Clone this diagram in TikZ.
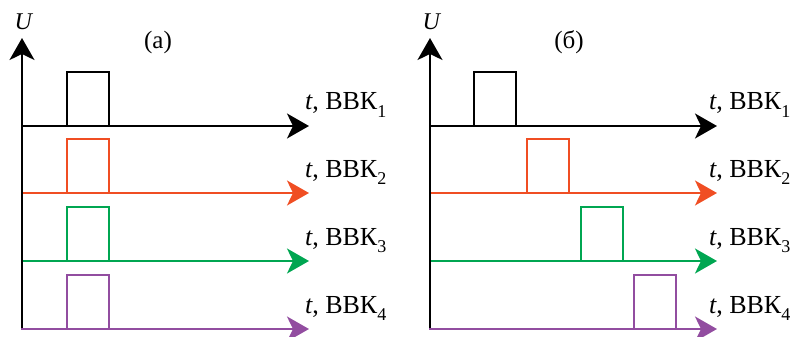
\documentclass[tikz,border=0pt]{standalone}
\usepackage{fontspec}
\setmainfont{Liberation Serif}
\usetikzlibrary{arrows.meta}
\definecolor{sigblack}{RGB}{0,0,0}
\definecolor{sigred}{RGB}{240,78,35}
\definecolor{siggreen}{RGB}{0,166,81}
\definecolor{sigpurple}{RGB}{146,77,160}
\newcommand{\chlabel}[1]{\textit{t}, ВВК\raisebox{-0.28em}{\fontsize{18}{18}\selectfont #1}}
\begin{document}
\begin{tikzpicture}[x=1pt,y=-1pt,
  line width=2.2pt,
  axisarrow/.style={-{Stealth[length=22pt,width=25pt,inset=6pt]}},
  pulse/.style={line join=miter},
  chtext/.style={anchor=base west,inner sep=0pt,font=\fontsize{26}{30}\selectfont},
  axtext/.style={inner sep=0pt,font=\fontsize{24}{28}\selectfont},
  paneltext/.style={inner sep=0pt,font=\fontsize{25}{29}\selectfont}]
\useasboundingbox (0,0) rectangle (796,337);

% ---------- panel (a): all channels fire together ----------
\coordinate (aorigin) at (22,329);
\coordinate (atop) at (22,38);
\foreach \base/\col/\n in {126/sigblack/1,193/sigred/2,261/siggreen/3,329/sigpurple/4}{
  \coordinate (aL\n) at (21,\base);
  \coordinate (aR\n) at (309,\base);
  \draw[\col,axisarrow] (aL\n) -- (aR\n);
  \draw[\col,pulse] (67,\base) -- (67,\base-54) -- (109,\base-54) -- (109,\base);
  \node[chtext] (alab\n) at (304,\base-16) {\chlabel{\n}};
}
\draw[sigblack,axisarrow] ([yshift=1pt]aorigin) -- (atop);
\node[axtext] (aU) at (24,22) {\textit{U}};
\node[paneltext] (apanel) at (158,42) {(а)};

% ---------- panel (б): channels fire one after another ----------
\coordinate (borigin) at (430,329);
\coordinate (btop) at (430,38);
\foreach \base/\col/\xa/\n in {126/sigblack/474/1,193/sigred/527/2,261/siggreen/581/3,329/sigpurple/634/4}{
  \coordinate (bL\n) at (429,\base);
  \coordinate (bR\n) at (717,\base);
  \draw[\col,axisarrow] (bL\n) -- (bR\n);
  \draw[\col,pulse] (\xa,\base) -- (\xa,\base-54) -- (\xa+42,\base-54) -- (\xa+42,\base);
  \node[chtext] (blab\n) at (708,\base-16) {\chlabel{\n}};
}
\draw[sigblack,axisarrow] ([yshift=1pt]borigin) -- (btop);
\node[axtext] (bU) at (432,22) {\textit{U}};
\node[paneltext] (bpanel) at (569,42) {(б)};
\end{tikzpicture}
\end{document}
